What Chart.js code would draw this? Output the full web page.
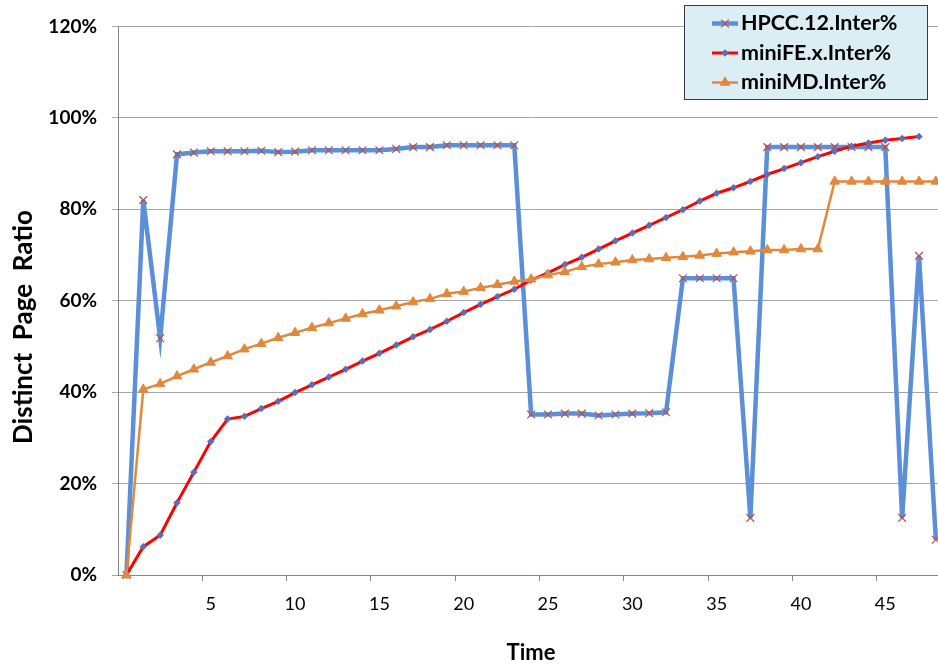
<!DOCTYPE html>
<html>
<head>
<meta charset="utf-8">
<title>Distinct Page Ratio</title>
<script src="https://cdn.jsdelivr.net/npm/chart.js@4/dist/chart.umd.min.js"></script>
<style>
  html, body { margin: 0; padding: 0; overflow: hidden; background: #fff; }
  #wrap { position: relative; width: 938px; height: 666px; overflow: hidden; }
</style>
</head>
<body>
<div id="wrap"><canvas id="myChart" width="951" height="666"></canvas></div>
<script>
// Data (values in %)
const timeLabels = [];
for (let t = 0; t <= 48; t++) timeLabels.push(String(t));

const hpccValues = [0, 82.0, 51.8, 92.0, 92.4, 92.7, 92.7, 92.7, 92.8, 92.5,
  92.6, 92.9, 92.9, 92.9, 92.9, 92.9, 93.2, 93.6, 93.6, 94.0,
  94.0, 94.0, 94.0, 94.0, 35.1, 35.1, 35.3, 35.3, 34.9, 35.1,
  35.3, 35.4, 35.6, 64.9, 64.9, 64.9, 64.9, 12.5, 93.6, 93.6,
  93.6, 93.6, 93.6, 93.6, 93.6, 93.6, 12.5, 69.8, 7.7];

const minifeValues = [0, 6.2, 8.7, 15.8, 22.5, 29.2, 34.1, 34.7, 36.4, 38.0,
  39.9, 41.6, 43.3, 45.0, 46.8, 48.5, 50.3, 52.1, 53.7, 55.5,
  57.4, 59.2, 60.9, 62.5, 64.5, 66.1, 67.9, 69.5, 71.3, 73.1,
  74.8, 76.5, 78.2, 79.9, 81.8, 83.5, 84.7, 86.1, 87.6, 88.9,
  90.2, 91.5, 92.7, 93.8, 94.5, 95.1, 95.5, 95.9, null];

const minimdValues = [0, 40.6, 41.8, 43.5, 45.0, 46.5, 47.9, 49.4, 50.6, 51.9,
  53.0, 54.1, 55.1, 56.1, 57.1, 57.9, 58.8, 59.7, 60.4, 61.5,
  62.0, 62.8, 63.5, 64.2, 64.7, 65.6, 66.3, 67.4, 68.0, 68.4,
  68.9, 69.1, 69.4, 69.6, 69.9, 70.3, 70.6, 70.8, 71.1, 71.1,
  71.3, 71.3, 86.1, 86.1, 86.1, 86.1, 86.1, 86.1, 86.1];

const seriesNames = ["HPCC.12.Inter%", "miniFE.x.Inter%", "miniMD.Inter%"];
const yTicks = [0, 20, 40, 60, 80, 100, 120];

const FONT = "Lato, 'Liberation Sans', sans-serif";

// axis titles + boxed legend (top right)
const decor = {
  id: "decor",
  afterDraw(chart) {
    const ctx = chart.ctx;
    ctx.save();
    ctx.fillStyle = "#000";
    ctx.textAlign = "center";
    ctx.textBaseline = "middle";

    ctx.font = "bold 22px " + FONT;
    ctx.fillText("Time", 531, 653);

    ctx.save();
    ctx.translate(24, 327);
    ctx.rotate(-Math.PI / 2);
    ctx.font = "bold 26px " + FONT;
    ctx.fillText("Distinct  Page  Ratio", 0, 0);
    ctx.restore();

    // legend box
    ctx.fillStyle = "#dbeef4";
    ctx.fillRect(684.5, 5.5, 243, 94);
    ctx.strokeStyle = "#3a3a3a";
    ctx.lineWidth = 1;
    ctx.strokeRect(684.5, 5.5, 243, 94);

    const rows = [23.5, 53, 82.5];
    chart.data.datasets.forEach((ds, i) => {
      const y = rows[i];
      ctx.strokeStyle = ds.borderColor;
      ctx.lineWidth = ds.borderWidth;
      ctx.beginPath();
      ctx.moveTo(712, y);
      ctx.lineTo(738, y);
      ctx.stroke();
      ctx.fillStyle = ds.pointBackgroundColor;
      ctx.strokeStyle = ds.pointBorderColor;
      ctx.lineWidth = ds.pointBorderWidth;
      Chart.helpers.drawPoint(ctx, {
        pointStyle: ds.pointStyle,
        radius: ds.pointRadius,
        rotation: 0,
        borderWidth: ds.pointBorderWidth
      }, 725, y);
      ctx.fillStyle = "#000";
      ctx.textAlign = "left";
      ctx.font = "bold 21.5px " + FONT;
      ctx.fillText(ds.label, 741, y);
    });
    ctx.restore();
  }
};

const ctx = document.getElementById("myChart");
const myLineChart = new Chart(ctx, {
  type: "line",
  data: {
    labels: timeLabels,
    datasets: [
      {
        label: seriesNames[0],
        data: hpccValues,
        borderColor: "#5b8fd8",
        borderWidth: 4.5,
        pointStyle: "crossRot",
        pointRadius: 5.5,
        pointBackgroundColor: "#b5524e",
        pointBorderColor: "#b5524e",
        pointBorderWidth: 1.2,
        order: 2
      },
      {
        label: seriesNames[1],
        data: minifeValues,
        borderColor: "#ff0000",
        borderWidth: 3,
        pointStyle: "rectRot",
        pointRadius: 3.5,
        pointBackgroundColor: "#5570b8",
        pointBorderColor: "#6a6fb5",
        pointBorderWidth: 0.5,
        order: 1
      },
      {
        label: seriesNames[2],
        data: minimdValues,
        borderColor: "#e0883c",
        borderWidth: 2.5,
        pointStyle: "triangle",
        pointRadius: 5.5,
        pointBackgroundColor: "#e0883c",
        pointBorderColor: "#e0883c",
        pointBorderWidth: 1,
        order: 0
      }
    ]
  },
  options: {
    responsive: false,
    animation: false,
    clip: false,
    layout: { padding: { top: 25, left: 0, right: 0, bottom: 0 } },
    elements: { line: { tension: 0 } },
    plugins: { legend: { display: false }, tooltip: { enabled: false } },
    scales: {
      x: {
        type: "category",
        offset: true,
        afterFit(scale) { scale.height = 91; },
        grid: {
          offset: true,
          drawOnChartArea: false,
          tickLength: 6,
          color: (c) => (c.index % 5 === 0 && c.index > 0 && c.index < 48) ? "#868686" : "rgba(0,0,0,0)"
        },
        border: { display: true, color: "#868686", width: 1 },
        ticks: {
          autoSkip: false,
          maxRotation: 0,
          padding: 12,
          color: "#000",
          font: { family: FONT, size: 18 },
          callback: (v, i) => (i % 5 === 0 && i > 0) ? timeLabels[i] : ""
        }
      },
      y: {
        min: 0,
        max: 120,
        afterFit(scale) { scale.width = 118; },
        afterBuildTicks(scale) { scale.ticks = yTicks.map(v => ({ value: v })); },
        grid: { color: "#a6a6a6", tickLength: 6 },
        border: { display: true, color: "#868686", width: 1 },
        ticks: {
          padding: 15,
          color: "#000",
          font: { family: FONT, size: 19, weight: "bold" },
          callback: (v) => v + "%"
        }
      }
    }
  },
  plugins: [decor]
});
</script>
</body>
</html>
